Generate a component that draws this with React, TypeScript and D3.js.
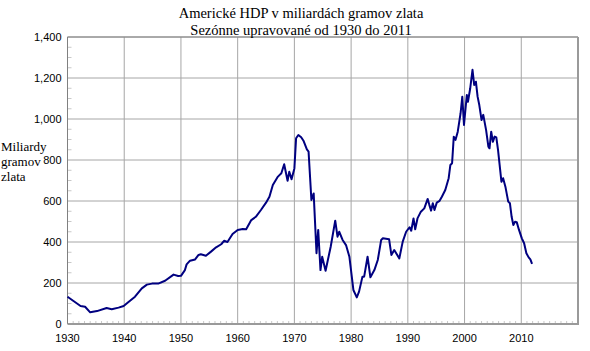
import React from 'react';
import * as d3 from 'd3';

// Title and axis label text
const titleLines = ['Americké HDP v miliardách gramov zlata', 'Sezónne upravované od 1930 do 2011'];
const yLabelLines = ['Miliardy', 'gramov', 'zlata'];

// Tick values
const xTicks = [1930, 1940, 1950, 1960, 1970, 1980, 1990, 2000, 2010];
const yTicks = [0, 200, 400, 600, 800, 1000, 1200, 1400];

// Series: year (fractional) and GDP in billions of grams of gold
const years = [
  1930, 1932.3, 1933.1, 1934, 1935.2, 1936.9, 1937.8, 1939, 1939.9, 1940.7,
  1941.9, 1943.1, 1944, 1944.9, 1946, 1947.2, 1948.7, 1949.5, 1950, 1950.7,
  1951, 1951.6, 1952.5, 1953.1, 1953.5, 1954.4, 1955.3, 1956.2, 1957.1, 1957.6,
  1958.2, 1959.1, 1960, 1960.9, 1961.5, 1962.4, 1963.2, 1964.1, 1965, 1965.6,
  1966.2, 1967.1, 1967.7, 1968.2, 1968.8, 1969.1, 1969.5, 1970, 1970.3, 1970.7,
  1971.2, 1971.6, 1972.2, 1972.5, 1973, 1973.4, 1973.9, 1974.2, 1974.6, 1974.9,
  1975.5, 1976.4, 1977.2, 1977.6, 1977.9, 1978.5, 1979.1, 1979.7, 1980.4, 1981,
  1981.4, 1982, 1982.3, 1982.9, 1983.4, 1984.1, 1984.7, 1985.3, 1985.6, 1986.7,
  1987.1, 1987.6, 1988.5, 1989.1, 1989.7, 1990.3, 1990.6, 1991, 1991.3, 1991.7,
  1992.3, 1992.9, 1993.5, 1993.8, 1994.1, 1994.4, 1994.7, 1995.1, 1995.6, 1996,
  1996.6, 1997.2, 1997.5, 1997.8, 1998.1, 1998.4, 1998.8, 1999.3, 1999.6, 1999.9,
  2000.4, 2000.6, 2001, 2001.4, 2001.7, 2002, 2002.3, 2002.6, 2003, 2003.3,
  2003.8, 2004.2, 2004.4, 2004.7, 2005, 2005.3, 2005.6, 2005.9, 2006.5, 2006.8,
  2007.2, 2007.7, 2008, 2008.3, 2008.6, 2008.9, 2009.2, 2009.6, 2010.1, 2010.5,
  2010.9, 2011.3, 2011.6, 2011.9,
];
const gdpGold = [
  133, 88, 84, 57, 63, 78, 72, 80, 88, 106,
  133, 174, 192, 197, 197, 211, 241, 234, 235, 263,
  291, 309, 315, 337, 340, 333, 353, 374, 389, 406,
  400, 439, 459, 463, 462, 507, 523, 556, 592, 621,
  678, 719, 735, 779, 699, 743, 706, 759, 906, 922,
  911, 894, 852, 841, 605, 637, 345, 459, 263, 328,
  260, 377, 504, 426, 450, 410, 385, 328, 166, 130,
  158, 231, 231, 328, 228, 263, 312, 410, 418, 413,
  337, 361, 320, 402, 450, 472, 455, 515, 462, 515,
  548, 564, 610, 580, 553, 589, 556, 592, 601, 621,
  654, 711, 776, 784, 914, 898, 938, 1028, 1109, 971,
  1117, 1084, 1150, 1240, 1166, 1182, 1109, 1068, 995, 1020,
  946, 865, 857, 938, 889, 914, 910, 849, 694, 711,
  670, 597, 589, 523, 483, 499, 497, 459, 418, 394,
  345, 325, 315, 293,
];

const data = years.map((y, i) => ({ year: y, value: gdpGold[i] }));

const W = 590;
const H = 351;
const margin = { left: 67.5, right: 12, top: 37, bottom: 27 };

export default function App() {
  const x = d3.scaleLinear().domain([1930, 2020]).range([margin.left, W - margin.right]);
  const y = d3.scaleLinear().domain([0, 1400]).range([H - margin.bottom, margin.top]);

  const line = d3.line<{ year: number; value: number }>()
    .x(d => x(d.year))
    .y(d => y(d.value));

  const minorX = d3.range(1931, 2020).filter(v => v % 10 !== 0);
  const minorY = d3.range(50, 1400, 50).filter(v => v % 200 !== 0);
  const gridX = xTicks.concat([2020]).filter(v => v !== 1930);

  const x0 = x(1930);
  const x1 = x(2020);
  const yb = y(0);
  const yt = y(1400);

  return (
    <svg width={W} height={H} style={{ position: 'absolute', left: 0, top: 0 }}>
      <rect width={W} height={H} fill="#fff" />

      {/* grid */}
      {gridX.map(v => (
        <line key={'gx' + v} x1={x(v)} x2={x(v)} y1={yt} y2={yb} stroke="#a6a6a6" strokeWidth={1} />
      ))}
      {yTicks.filter(v => v !== 0).map(v => (
        <line key={'gy' + v} x1={x0} x2={x1} y1={y(v)} y2={y(v)} stroke="#a6a6a6" strokeWidth={1} />
      ))}

      {/* minor ticks */}
      {minorX.map(v => (
        <line key={'mx' + v} x1={x(v)} x2={x(v)} y1={yb} y2={yb - 3} stroke="#c8c8c8" />
      ))}
      {minorY.map(v => (
        <line key={'my' + v} x1={x0} x2={x0 + 4} y1={y(v)} y2={y(v)} stroke="#c8c8c8" />
      ))}

      {/* frame */}
      <line x1={x0} x2={x1} y1={yt} y2={yt} stroke="#808080" />
      <line x1={x0} x2={x0} y1={yt} y2={yb} stroke="#808080" />
      <line x1={x0} x2={x1 + 1} y1={yb} y2={yb} stroke="#9a9a9a" strokeWidth={2} />
      <line x1={x1} x2={x1} y1={yt} y2={yb} stroke="#9a9a9a" strokeWidth={2} />

      {/* data */}
      <path d={line(data) || ''} fill="none" stroke="#000080" strokeWidth={2} strokeLinejoin="round" />

      {/* y tick labels */}
      {yTicks.map(v => (
        <text key={'ly' + v} x={x0 - 6} y={y(v) + 4} textAnchor="end"
          fontFamily="'Liberation Sans', Arial, sans-serif" fontSize={11} fill="#000">
          {d3.format(',')(v)}
        </text>
      ))}

      {/* x tick labels */}
      {xTicks.map(v => (
        <text key={'lx' + v} x={x(v)} y={342} textAnchor="middle"
          fontFamily="'Liberation Sans', Arial, sans-serif" fontSize={11} fill="#000">
          {v}
        </text>
      ))}

      {/* title */}
      {titleLines.map((t, i) => (
        <text key={'t' + i} x={301} y={18 + i * 17} textAnchor="middle"
          fontFamily="'Liberation Serif', 'Times New Roman', serif" fontSize={14.5} fill="#000">
          {t}
        </text>
      ))}

      {/* y axis label */}
      {yLabelLines.map((t, i) => (
        <text key={'yl' + i} x={1} y={151 + i * 15}
          fontFamily="'Liberation Serif', 'Times New Roman', serif" fontSize={13} fill="#000">
          {t}
        </text>
      ))}
    </svg>
  );
}
